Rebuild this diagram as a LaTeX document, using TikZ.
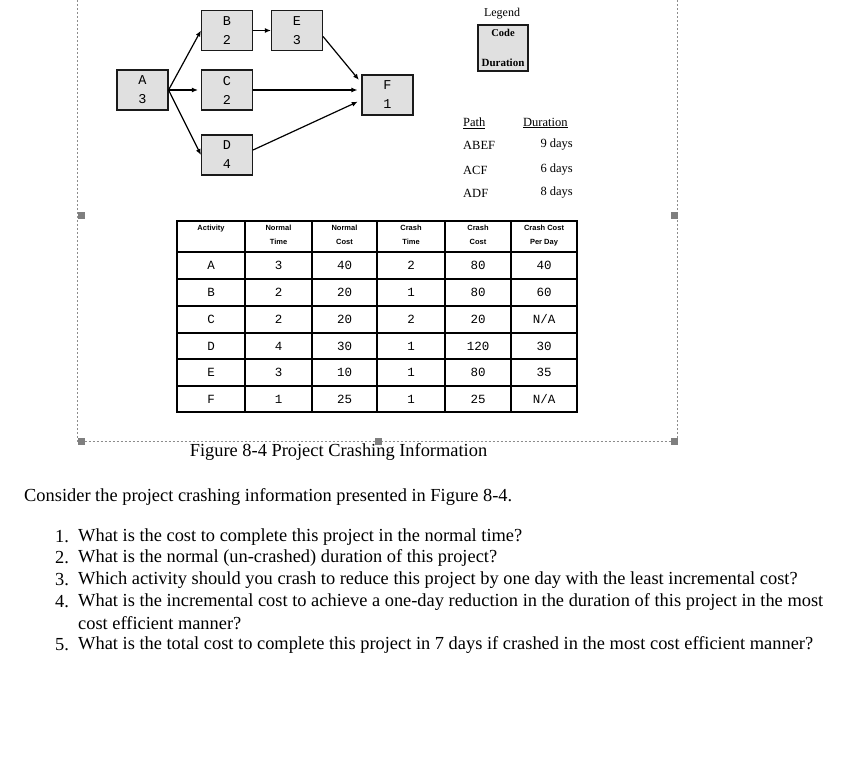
\documentclass[tikz,border=0pt]{standalone}
\usepackage{fontspec}
\setmainfont{Liberation Serif}
\setsansfont{Liberation Sans}
\setmonofont{Liberation Mono}
\usetikzlibrary{arrows.meta,positioning,calc}
\definecolor{NetGray}{HTML}{E0E0E0}
\definecolor{NetDark}{HTML}{1A1A1A}
\definecolor{FrameGray}{HTML}{8C8C8C}
\definecolor{HandleGray}{HTML}{7F7F7F}
\tikzset{
  actbox/.style={draw=NetDark, fill=NetGray, line width=1.1pt, inner sep=0pt,
                 minimum width=51pt, minimum height=40pt, align=center,
                 font=\ttfamily\fontsize{13.5}{19}\selectfont},
  netarrow/.style={-{Latex[length=6pt,width=5pt]}, line width=1.2pt, black},
  pathtxt/.style={font=\fontsize{12.5}{14}\selectfont, inner sep=0pt},
  headtxt/.style={font=\sffamily\bfseries\fontsize{7.5}{14}\selectfont,
                  align=center, anchor=north, inner sep=0pt},
  celltxt/.style={font=\ttfamily\fontsize{12.5}{14}\selectfont, inner sep=0pt},
  gridline/.style={line width=1.3pt, black},
  handle/.style={fill=HandleGray, minimum size=7pt, inner sep=0pt},
  qtxt/.style={font=\fontsize{18.4}{21}\selectfont, anchor=west, inner sep=0pt},
}

\begin{document}
\begin{tikzpicture}[x=1pt,y=-1pt]
  \useasboundingbox (0,0) rectangle (846,762);

  % activity network
  \node[actbox] (A) at (142.5,90) {A\\3};
  \node[actbox] (B) at (227,30.5) {B\\2};
  \node[actbox] (E) at (297,30.5) {E\\3};
  \node[actbox] (C) at (227,90) {C\\2};
  \node[actbox] (D) at (227,155) {D\\4};
  \node[actbox] (F) at (387.5,95) {F\\1};

  \draw[netarrow] (A.east) -- (B.west);
  \draw[netarrow, shorten >=3pt] (A.east) -- (C.west);
  \draw[netarrow] (A.east) -- (D.west);
  \draw[netarrow] (B.east) -- (E.west);
  \draw[netarrow, shorten >=4pt] ([yshift=-6pt]E.east) -- ([yshift=12pt]F.west);
  \draw[netarrow, shorten >=4pt] (C.east) -- (C.east -| F.west);
  \draw[netarrow, shorten >=4pt] ([yshift=5pt]D.east) -- ([yshift=-5pt]F.west);

  % legend
  \node[font=\fontsize{12}{14}\selectfont] (legend) at (502,14) {Legend};
  \node[actbox, minimum width=50pt, minimum height=46pt] (key) at (503,48) {};
  \node[font=\bfseries\fontsize{10.5}{12}\selectfont, inner sep=0pt] (keycode) at (503,33) {Code};
  \node[font=\bfseries\fontsize{11}{12}\selectfont, inner sep=0pt] (keydur) at (503,63) {Duration};

  % path durations
  \node[pathtxt, anchor=west] (pathhd) at (463,123) {\underline{Path}};
  \node[pathtxt, anchor=west] (durhd) at (523,123) {\underline{Duration}};
  \foreach \p/\d/\y in {ABEF/9/145, ACF/6/170, ADF/8/193} {
    \node[pathtxt, anchor=west] (p\p) at (463,\y) {\p};
    \node[pathtxt, anchor=east] (d\p) at (573,\y) {\d\ days};
  }

  % crashing table
  \foreach \x in {245,312,377,445,511}
    \draw[gridline] (\x,221) -- (\x,412);
  \foreach \y in {252,279,306,333,359,386}
    \draw[gridline] (177,\y) -- (577,\y);
  \draw[line width=2.4pt] (177,221) rectangle (577,412);

  \foreach \cx/\h [count=\i] in {211/Activity, 278.5/{Normal\\Time},
      344.5/{Normal\\Cost}, 411/{Crash\\Time}, 478/{Crash\\Cost},
      544/{Crash Cost\\Per Day}}
    \node[headtxt] (hd\i) at (\cx,225) {\h};

  \foreach \cy/\a/\nt/\nc/\ct/\cc/\cd in {265.5/A/3/40/2/80/40,
      292.5/B/2/20/1/80/60, 319.5/C/2/20/2/20/{N/A},
      346/D/4/30/1/120/30, 372.5/E/3/10/1/80/35,
      399/F/1/25/1/25/{N/A}} {
    \node[celltxt] (act\a) at (211,\cy) {\a};
    \node[celltxt] (nt\a) at (278.5,\cy) {\nt};
    \node[celltxt] (nc\a) at (344.5,\cy) {\nc};
    \node[celltxt] (ct\a) at (411,\cy) {\ct};
    \node[celltxt] (cc\a) at (478,\cy) {\cc};
    \node[celltxt] (cd\a) at (544,\cy) {\cd};
  }

  % figure frame with handles
  \draw[FrameGray, line width=0.8pt, dash pattern=on 2pt off 2pt]
    (77.5,0) -- (77.5,441) -- (677.5,441) -- (677.5,0);
  \foreach \hx/\hy [count=\i] in {81/216, 674/216, 81/441, 378/441, 674/441}
    \node[handle] (hdl\i) at (\hx,\hy) {};

  \node[font=\fontsize{18.4}{21}\selectfont] (caption) at (338.5,452)
    {Figure 8-4 Project Crashing Information};

  % questions
  \node[qtxt] (intro) at (24,497)
    {Consider the project crashing information presented in Figure 8-4.};
  \foreach \n/\y/\t in {1/537/{What is the cost to complete this project in the normal time?},
      2/558/{What is the normal (un-crashed) duration of this project?},
      3/580/{Which activity should you crash to reduce this project by one day with the least incremental cost?},
      4/602/{What is the incremental cost to achieve a one-day reduction in the duration of this project in the most},
      5/645/{What is the total cost to complete this project in 7 days if crashed in the most cost efficient manner?}} {
    \node[qtxt] (qn\n) at (55,\y) {\n.};
    \node[qtxt] (q\n) at (78,\y) {\t};
  }
  \node[qtxt] (q4b) at (78,623) {cost efficient manner?};
\end{tikzpicture}
\end{document}
